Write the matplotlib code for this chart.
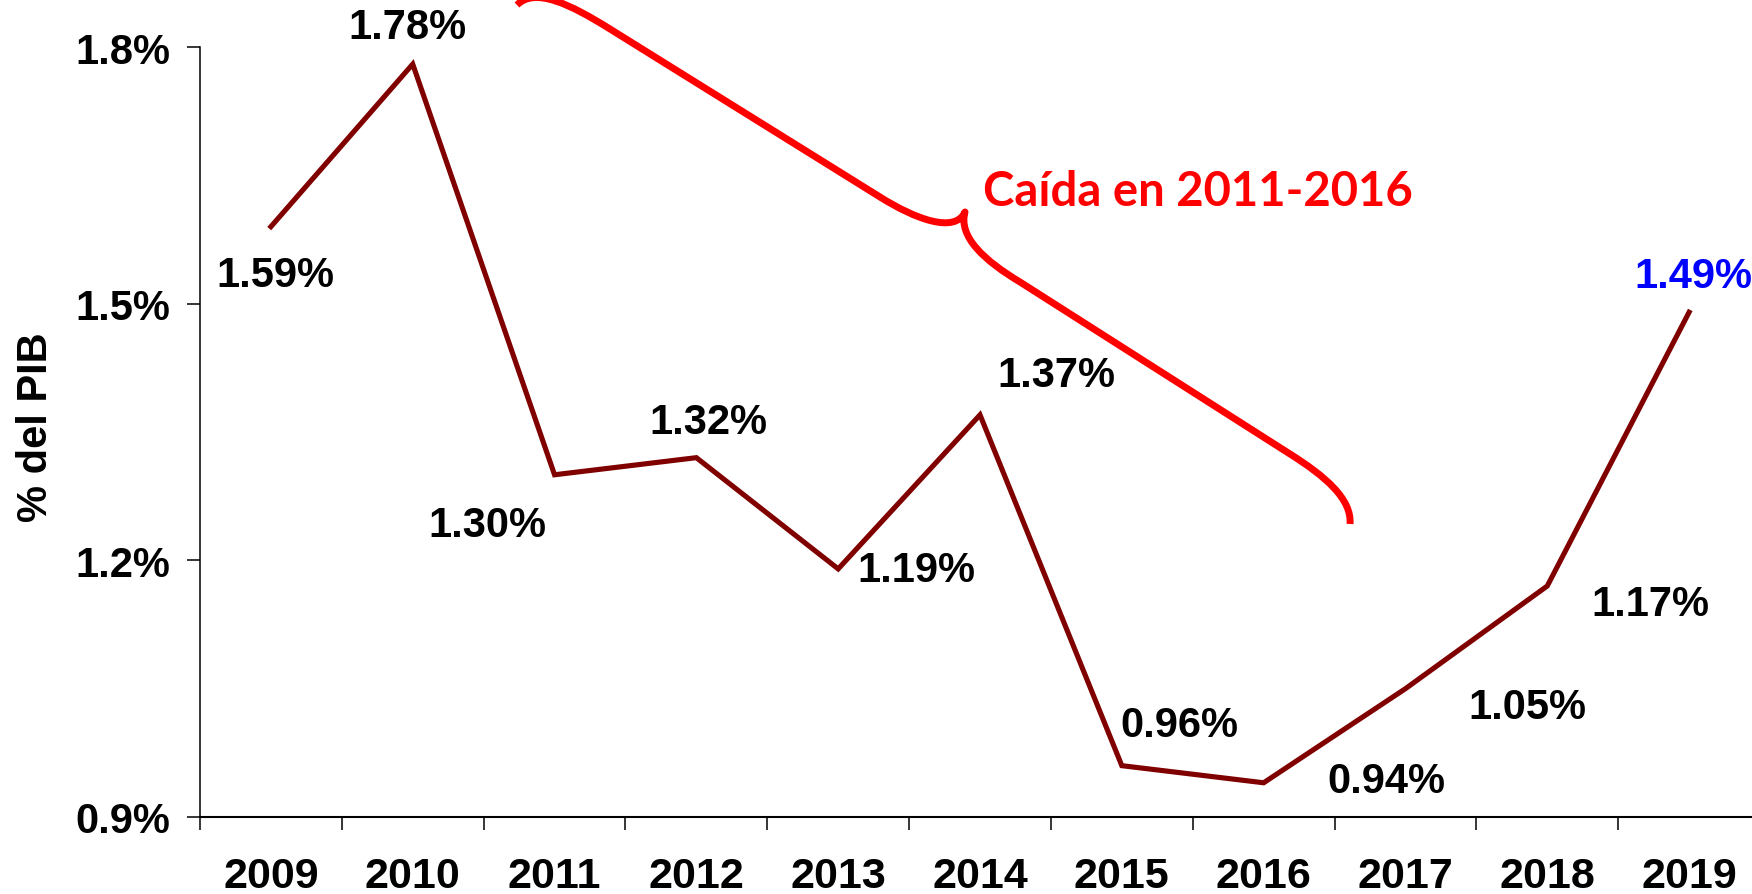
import numpy as np
import matplotlib.pyplot as plt
from matplotlib.path import Path
from matplotlib.patches import PathPatch

# datos: gasto como % del PIB
years = ['2009', '2010', '2011', '2012', '2013', '2014', '2015', '2016', '2017', '2018', '2019']
values = [1.59, 1.78, 1.30, 1.32, 1.19, 1.37, 0.96, 0.94, 1.05, 1.17, 1.49]
y_ticks = [0.9, 1.2, 1.5, 1.8]
note = 'Caída en 2011-2016'

# desplazamiento de cada etiqueta respecto a su punto (pixeles)
label_offsets = [(4, -48), (-5, 37), (-67, -50), (12, 36), (78, -1), (76, 40),
                 (58, 41), (123, 2), (122, -18), (103, -18), (4, 36)]
label_colors = ['black'] * 10 + ['#0000FF']

W, H = 1752, 895
plt.rcParams['font.family'] = ['Liberation Sans', 'DejaVu Sans']
plt.rcParams['font.weight'] = 'bold'

fig = plt.figure(figsize=(W / 100, H / 100), dpi=100)
ax = fig.add_axes([200 / W, 77 / H, 1560 / W, 770 / H])

x = np.arange(len(years))
ax.plot(x, values, color='#800000', lw=3.7, solid_joinstyle='miter', clip_on=False)

for xi, v, off, c in zip(x, values, label_offsets, label_colors):
    ax.annotate('%.2f%%' % v, (xi, v), xytext=off, textcoords='offset pixels',
                ha='center', va='center', fontsize=30, fontweight='bold',
                color=c, annotation_clip=False)

ax.set_xlim(-0.5, len(years) - 0.5)
ax.set_ylim(0.9, 1.8)
ax.set_yticks(y_ticks)
ax.set_yticklabels(['%.1f%%' % t for t in y_ticks], fontsize=30, fontweight='bold')
ax.set_xticks(np.arange(-0.5, len(years), 1))
ax.set_xticklabels([])
ax.set_xticks(x, minor=True)
ax.set_xticklabels(years, minor=True, fontsize=31, fontweight='bold')
ax.tick_params(axis='x', which='major', length=9.4, width=1.1, direction='out')
ax.tick_params(axis='x', which='minor', length=0, pad=28)
ax.tick_params(axis='y', length=9.4, width=1.1, direction='out', pad=12)

for s in ['top', 'right']:
    ax.spines[s].set_visible(False)
ax.spines['left'].set_linewidth(1.1)
ax.spines['bottom'].set_linewidth(1.5)

ax.set_ylabel('% del PIB', fontsize=30, fontweight='bold')
ax.yaxis.set_label_coords(-0.0923, 0.508)

# llave roja sobre la caida
pts = [(517, 6), (535, -12), (570, 5), (610, 30),
       (880, 198),
       (915, 220), (955, 235), (965, 213),
       (958, 238), (985, 262), (1020, 283),
       (1290, 455),
       (1325, 477), (1352, 500), (1350, 525)]
codes = [Path.MOVETO, Path.CURVE4, Path.CURVE4, Path.CURVE4,
         Path.LINETO,
         Path.CURVE4, Path.CURVE4, Path.CURVE4,
         Path.CURVE4, Path.CURVE4, Path.CURVE4,
         Path.LINETO,
         Path.CURVE4, Path.CURVE4, Path.CURVE4]
verts = [(px / W, 1 - py / H) for px, py in pts]
brace = PathPatch(Path(verts, codes), transform=fig.transFigure, fill=False,
                  edgecolor='#FF0000', lw=5, capstyle='butt', joinstyle='round')
fig.patches.append(brace)

fig.text(983 / W, 1 - 192 / H, note, color='#FF0000', fontsize=34,
         fontweight='bold', family=['Lato', 'DejaVu Sans'], ha='left', va='center')

fig.savefig('out.png', dpi=100)
